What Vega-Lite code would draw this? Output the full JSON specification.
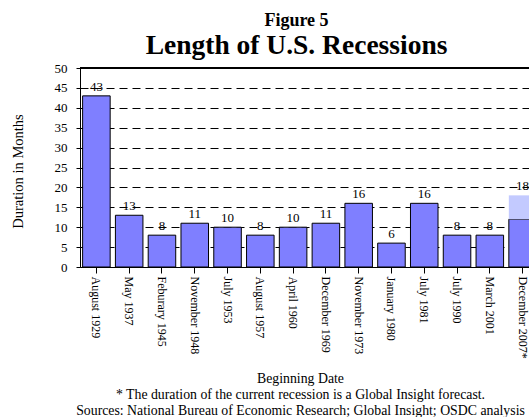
{
  "$schema": "https://vega.github.io/schema/vega-lite/v6.json",
  "autosize": {"type": "none"},
  "padding": {"left": 80, "top": 68, "right": 0, "bottom": 150},
  "width": 449,
  "height": 199,
  "background": "white",
  "config": {
    "font": "Liberation Serif",
    "view": {"stroke": null},
    "axis": {"labelColor": "black", "titleColor": "black", "labelFont": "Liberation Serif", "titleFont": "Liberation Serif"}
  },
  "title": {
    "text": "Figure 5",
    "subtitle": "Length of U.S. Recessions",
    "font": "Liberation Serif",
    "subtitleFont": "Liberation Serif",
    "fontSize": 18,
    "fontWeight": "bold",
    "color": "black",
    "subtitleFontSize": 27.5,
    "subtitleFontWeight": "bold",
    "subtitleColor": "black",
    "anchor": "middle",
    "offset": 3,
    "subtitlePadding": 2,
    "dx": -8
  },
  "data": {
    "values": [
      {"date": "August 1929", "months": 43, "type": "Actual"},
      {"date": "May 1937", "months": 13, "type": "Actual"},
      {"date": "Feburary 1945", "months": 8, "type": "Actual"},
      {"date": "November 1948", "months": 11, "type": "Actual"},
      {"date": "July 1953", "months": 10, "type": "Actual"},
      {"date": "August 1957", "months": 8, "type": "Actual"},
      {"date": "April 1960", "months": 10, "type": "Actual"},
      {"date": "December 1969", "months": 11, "type": "Actual"},
      {"date": "November 1973", "months": 16, "type": "Actual"},
      {"date": "January 1980", "months": 6, "type": "Actual"},
      {"date": "July 1981", "months": 16, "type": "Actual"},
      {"date": "July 1990", "months": 8, "type": "Actual"},
      {"date": "March 2001", "months": 8, "type": "Actual"},
      {"date": "December 2007*", "months": 12, "type": "Actual"},
      {"date": "December 2007*", "months": 6, "type": "Forecast"}
    ]
  },
  "resolve": {"axis": {"y": "independent"}},
  "layer": [
    {
      "mark": {"type": "bar", "strokeWidth": 1, "opacity": 1},
      "encoding": {
        "x": {
          "field": "date",
          "type": "nominal",
          "sort": null,
          "scale": {"range": [0, 459], "paddingInner": 0.16, "paddingOuter": 0.08},
          "axis": {
            "grid": false,
            "domainColor": "black",
            "tickColor": "black",
            "tickSize": 6,
            "labelAngle": 90,
            "labelFontSize": 12,
            "labelPadding": 3,
            "title": ["Beginning Date", "* The duration of the current recession is a Global Insight forecast.", "Sources: National Bureau of Economic Research; Global Insight; OSDC analysis"],
            "titleFontSize": 13.8,
            "titleFontWeight": "normal",
            "titleLineHeight": 16,
            "titleX": 220,
            "titleY": 104
          }
        },
        "y": {
          "field": "months",
          "type": "quantitative",
          "stack": "zero",
          "scale": {"domain": [0, 50], "nice": false},
          "axis": {
            "values": [0, 5, 10, 15, 20, 25, 30, 35, 40, 45, 50],
            "grid": true,
            "gridColor": "black",
            "gridDash": [8, 5],
            "gridWidth": 1,
            "gridOpacity": 1,
            "domainColor": "black",
            "tickColor": "black",
            "tickSize": 4,
            "labelFontSize": 13,
            "labelPadding": 9,
            "title": "Duration in Months",
            "titleFontSize": 14.5,
            "titleFontWeight": "normal",
            "titleX": -62,
            "titleY": 103,
            "titleBaseline": "middle",
            "titleAlign": "center"
          }
        },
        "color": {
          "field": "type",
          "type": "nominal",
          "scale": {"domain": ["Actual", "Forecast"], "range": ["#7F7FFF", "#C3CAFF"]},
          "legend": null
        },
        "order": {"field": "type", "sort": "ascending"},
        "stroke": {
          "condition": {"test": "datum.type === 'Actual'", "value": "black"},
          "value": null
        }
      }
    },
    {
      "mark": {"type": "rule", "color": "black", "strokeWidth": 1},
      "encoding": {"y": {"datum": 50, "type": "quantitative", "axis": null}}
    },
    {
      "mark": {"type": "text", "baseline": "alphabetic", "dy": -5, "fontSize": 13, "color": "black", "font": "Liberation Serif"},
      "encoding": {
        "x": {"field": "date", "type": "nominal", "sort": null},
        "y": {"aggregate": "sum", "field": "months", "type": "quantitative", "axis": null},
        "text": {"aggregate": "sum", "field": "months", "type": "quantitative"}
      }
    }
  ]
}
